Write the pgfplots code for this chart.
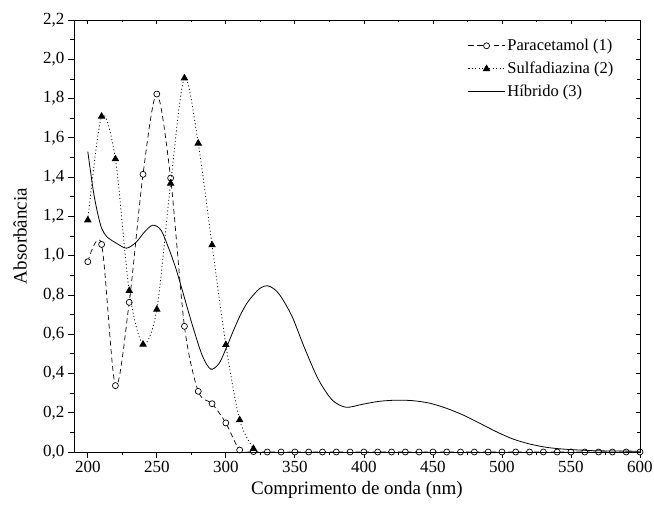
\documentclass[border=0pt]{standalone}
\usepackage{fontspec}
\setmainfont{Liberation Serif}
\usepackage{pgfplots}
\pgfplotsset{compat=1.18}
\pgfplotsset{
  common/.style={
    width=566pt, height=432pt, scale only axis,
    xmin=190, xmax=600, ymin=0, ymax=2.2,
    xtick={200,250,300,350,400,450,500,550,600},
    minor xtick={225,275,325,375,425,475,525,575},
    ytick={0,0.2,0.4,0.6,0.8,1.0,1.2,1.4,1.6,1.8,2.0,2.2},
    minor ytick={0.1,0.3,0.5,0.7,0.9,1.1,1.3,1.5,1.7,1.9,2.1},
    axis line style={line width=0.8pt},
    tick style={black, line width=0.8pt},
  }
}
\begin{document}
\begin{tikzpicture}
\begin{axis}[common,
  tick align=outside, xtick pos=left, ytick pos=left,
  major tick length=6pt, minor tick length=3.5pt,
  /pgf/number format/assume math mode=true,
  ticklabel style={font=\fontsize{17}{20}\selectfont},
  yticklabel style={/pgf/number format/.cd, fixed, fixed zerofill, precision=1, use comma, assume math mode=true},
  xlabel={Comprimento de onda (nm)}, ylabel={Absorbância},
  label style={font=\fontsize{19}{22}\selectfont},
  xlabel style={at={(axis description cs:0.5,-0.088)}, anchor=center},
  ylabel style={at={(axis description cs:-0.0954,0.5)}, anchor=center},
  clip mode=individual,
  legend style={draw=none, fill=none, at={(axis description cs:0.962,0.965)}, anchor=north east,
    font=\fontsize{16.5}{20}\selectfont, row sep=6pt},
  legend cell align=left,
  legend image code/.code={\draw[mark repeat=2, mark phase=2, #1] plot coordinates {(0pt,0pt) (18.5pt,0pt) (37pt,0pt)};},
]
\addplot[black, line width=0.7pt, dash pattern=on 5pt off 3.5pt, smooth,
  mark=*, mark size=3pt, mark options={solid, fill=white, draw=black, line width=0.7pt}]
coordinates {
(200,0.969) (210,1.057) (220,0.338) (230,0.762) (240,1.414) (250,1.823)
(260,1.395) (270,0.640) (280,0.309) (290,0.246) (300,0.148) (310,0.010)
(320,0.002) (330,0) (340,0) (350,0) (360,0) (370,0) (380,0) (390,0)
(400,0) (410,0) (420,0) (430,0) (440,0) (450,0) (460,0) (470,0) (480,0)
(490,0) (500,0) (510,0) (520,0) (530,0) (540,0) (550,0) (560,0) (570,0)
(580,0) (590,0) (600,0)
};
\addlegendentry{Paracetamol (1)}
\addplot[black, line width=0.8pt, dash pattern=on 1pt off 2.5pt, smooth,
  mark=triangle*, mark size=3.6pt, mark options={solid, fill=black, draw=black}]
coordinates {
(200,1.181) (210,1.709) (220,1.492) (230,0.821) (240,0.548) (250,0.726)
(260,1.368) (270,1.904) (280,1.572) (290,1.054) (300,0.546) (310,0.163)
(320,0.017)
};
\addlegendentry{Sulfadiazina (2)}
\addplot[black, line width=0.8pt, smooth, no marks]
coordinates {
(200,1.53) (204,1.33) (207,1.22) (210,1.14) (214,1.095) (221,1.062)
(228,1.038) (235,1.068) (241,1.12) (247,1.155) (253,1.13) (259,1.03)
(264,0.93) (269,0.81) (276,0.64) (283,0.49) (289,0.422) (295,0.45)
(300,0.525) (305,0.61) (310,0.69) (315,0.755) (320,0.80) (325,0.835)
(330,0.847) (335,0.83) (340,0.79) (348,0.69)
(357,0.53) (367,0.37) (377,0.265) (387,0.228) (399,0.243) (411,0.258)
(424,0.264) (436,0.261) (448,0.248) (460,0.222) (472,0.188) (484,0.146)
(496,0.103) (508,0.066) (520,0.041) (532,0.024) (544,0.015) (556,0.01)
(570,0.006) (600,0.004)
};
\addlegendentry{Híbrido (3)}
\end{axis}
\begin{axis}[common,
  tick align=inside, xtick pos=right, ytick pos=right,
  major tick length=4pt, minor tick length=2.5pt,
  xticklabels={}, yticklabels={},
]
\end{axis}
\pgfresetboundingbox
\path (current axis.south west) ++(-74pt,-64pt) rectangle ++(654pt,516pt);
\end{tikzpicture}
\end{document}
